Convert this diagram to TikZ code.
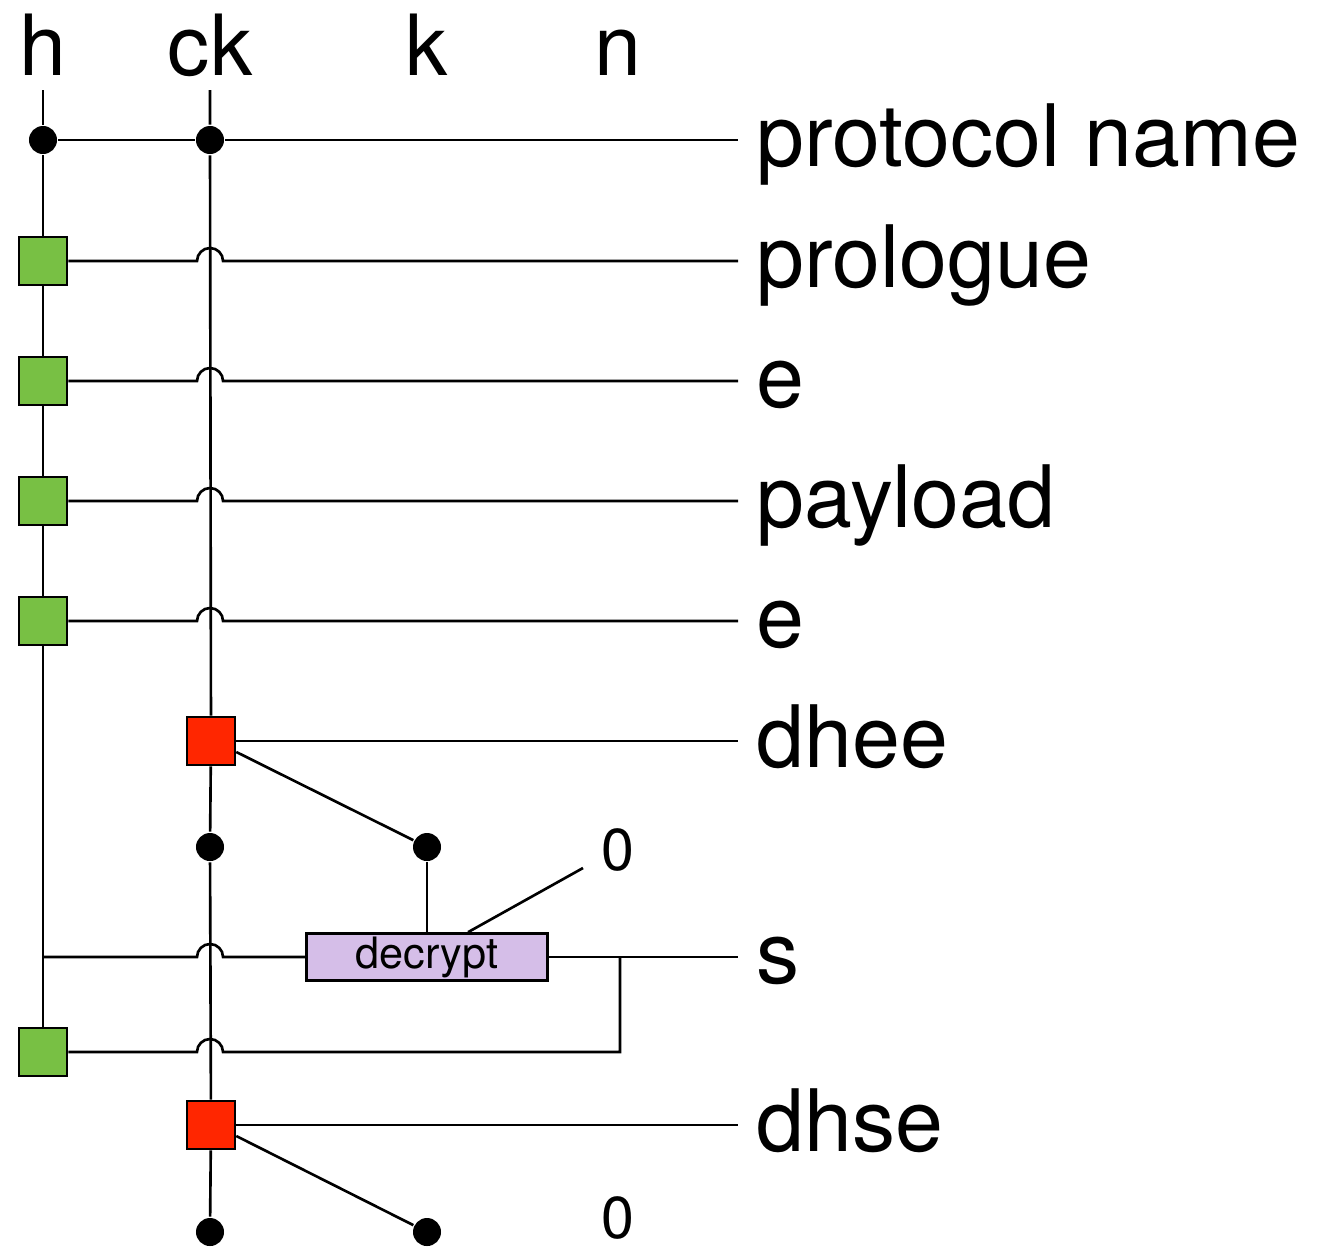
\documentclass[tikz,border=0pt]{standalone}
\usepackage{fontspec}
\setmainfont{TeX Gyre Heros}
\usepackage{tikz}
\usetikzlibrary{positioning,calc}

\definecolor{boxgreen}{RGB}{120,192,68}
\definecolor{boxred}{RGB}{255,38,0}
\definecolor{boxlilac}{RGB}{213,190,232}

\begin{document}
\begin{tikzpicture}[
  x=0.01cm, y=0.01cm, line width=0.75pt,
  dot/.style={circle, fill=black, inner sep=0pt, minimum size=0.28cm},
  sq/.style={draw, line width=0.75pt, inner sep=0pt, minimum size=0.48cm},
  gbox/.style={sq, fill=boxgreen},
  rbox/.style={sq, fill=boxred},
  opbox/.style={draw, fill=boxlilac, inner sep=0pt, minimum width=2.41cm,
                minimum height=0.47cm, font=\fontsize{12.3}{14}\selectfont},
  col/.style={anchor=base, inner sep=0pt, font=\fontsize{24}{28}\selectfont},
  lbl/.style={anchor=base west, inner ysep=0pt, inner xsep=0.17cm,
              font=\fontsize{24.5}{28}\selectfont},
  zero/.style={inner sep=0pt, font=\fontsize{16.8}{20}\selectfont},
]
  \useasboundingbox (0,0) rectangle (1337,-1248);

  % column heads
  \node[col] (th) at (43,-75) {h};
  \node[col] (tck) at (210,-75) {ck};
  \node[col] (tk) at (427,-75) {k};
  \node[col] (tn) at (618,-75) {n};
  \coordinate (htop) at (43,-90);
  \coordinate (cktop) at (210,-90);

  % row labels (baselines sit 26 below their line)
  \node[lbl] (l1) at (738,-166) {protocol name};
  \node[lbl] (l2) at (738,-287) {prologue};
  \node[lbl] (l3) at (738,-407) {e};
  \node[lbl] (l4) at (738,-527) {payload};
  \node[lbl] (l5) at (738,-647) {e};
  \node[lbl] (l6) at (738,-767) {dhee};
  \node[lbl] (l7) at (738,-983) {s};
  \node[lbl] (l8) at (738,-1151) {dhse};
  \node[zero] (z1) at (618,-850) {0};
  \node[zero] (z2) at (618,-1218) {0};

  % mix points
  \node[dot] (d1) at (43,-140) {};
  \node[dot] (d2) at (210,-140) {};
  \node[dot] (d3) at (210,-847) {};
  \node[dot] (d4) at (427,-847) {};
  \node[dot] (d5) at (210,-1232) {};
  \node[dot] (d6) at (427,-1232) {};

  \node[gbox] (g1) at (43,-261) {};
  \node[gbox] (g2) at (43,-381) {};
  \node[gbox] (g3) at (43,-501) {};
  \node[gbox] (g4) at (43,-621) {};
  \node[gbox] (g5) at (43,-1052) {};
  \node[rbox] (r1) at (211,-741) {};
  \node[rbox] (r2) at (211,-1125) {};
  \node[opbox] (dec) at (427,-957) {decrypt};

  \coordinate (hs) at (43,-957);
  \coordinate (br) at (620,-957);
  \coordinate (ztail) at (583,-868);

  % the two chains
  \draw (htop) -- (d1) -- (g1) -- (g2) -- (g3) -- (g4) -- (g5);
  \draw (cktop) -- (d2) -- (r1) -- (d3) -- (r2) -- (d5);

  % rows
  \draw (d1) -- (d2) -- (l1.west |- d1);
  \draw (g1) -- ($(g1 -| cktop)+(-13,0)$) arc[start angle=180, end angle=0, radius=0.13cm] -- (l2.west |- g1);
  \draw (g2) -- ($(g2 -| cktop)+(-13,0)$) arc[start angle=180, end angle=0, radius=0.13cm] -- (l3.west |- g2);
  \draw (g3) -- ($(g3 -| cktop)+(-13,0)$) arc[start angle=180, end angle=0, radius=0.13cm] -- (l4.west |- g3);
  \draw (g4) -- ($(g4 -| cktop)+(-13,0)$) arc[start angle=180, end angle=0, radius=0.13cm] -- (l5.west |- g4);
  \draw (r1) -- (l6.west |- r1);
  \draw ([yshift=-0.11cm]r1.east) -- (d4);
  \draw (d4) -- (dec);
  \draw ([xshift=0.41cm]dec.north) -- (ztail);
  \draw (hs) -- ($(hs -| cktop)+(-13,0)$) arc[start angle=180, end angle=0, radius=0.13cm] -- (dec.west);
  \draw (dec.east) -- (l7.west |- dec);
  \draw (br) -- (br |- g5) -- ($(g5 -| cktop)+(13,0)$) arc[start angle=0, end angle=180, radius=0.13cm] -- (g5);
  \draw (r2) -- (l8.west |- r2);
  \draw ([yshift=-0.11cm]r2.east) -- (d6);
\end{tikzpicture}
\end{document}
